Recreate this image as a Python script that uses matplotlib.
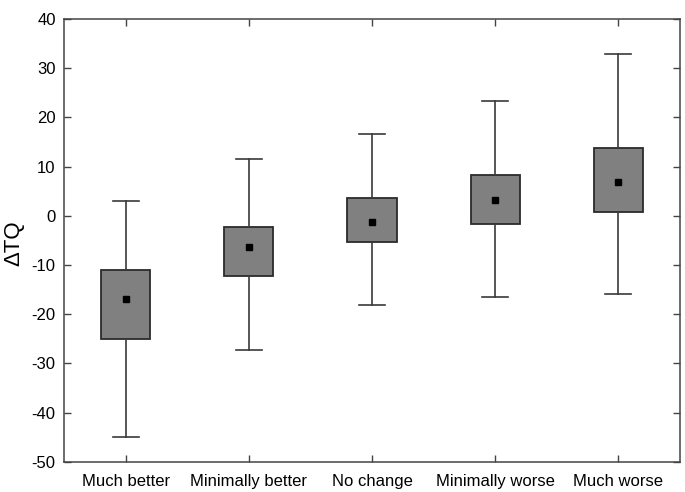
import matplotlib
matplotlib.use("Agg")
import matplotlib.pyplot as plt

categories = ["Much better", "Minimally better", "No change", "Minimally worse", "Much worse"]
whisker_low = [-45.0, -27.3, -18.2, -16.6, -16.0]
q1 = [-25.0, -12.3, -5.3, -1.6, 0.8]
means = [-17.0, -6.3, -1.3, 3.3, 6.9]
q3 = [-11.0, -2.3, 3.6, 8.2, 13.8]
whisker_high = [3.0, 11.5, 16.6, 23.3, 32.9]
yticks = [-50, -40, -30, -20, -10, 0, 10, 20, 30, 40]

plt.rcParams['font.family'] = ['Liberation Sans', 'DejaVu Sans']
plt.rcParams['axes.unicode_minus'] = False

fig = plt.figure(figsize=(6.85, 4.92), dpi=100)
ax = fig.add_axes([0.0934, 0.0616, 0.8993, 0.8998])

stats = []
for i, c in enumerate(categories):
    stats.append(dict(label=c, whislo=whisker_low[i], q1=q1[i], med=means[i],
                      q3=q3[i], whishi=whisker_high[i], mean=means[i], fliers=[]))

positions = list(range(1, len(categories) + 1))
ax.bxp(stats, positions=positions, widths=0.4, patch_artist=True, showmeans=True,
       showfliers=False,
       boxprops=dict(facecolor='#808080', edgecolor='#2b2b2b', linewidth=1.3),
       whiskerprops=dict(color='#3a3a3a', linewidth=1.2),
       capprops=dict(color='#3a3a3a', linewidth=1.2),
       medianprops=dict(linewidth=0, color='none'),
       meanprops=dict(marker='s', markerfacecolor='black', markeredgecolor='black',
                      markersize=5),
       capwidths=0.21)

ax.set_xlim(0.5, 5.5)
ax.set_ylim(-50, 40)
ax.set_yticks(yticks)
ax.set_xticks(positions)
ax.set_xticklabels(categories, fontsize=12)
ax.tick_params(axis='y', labelsize=12, pad=6)
ax.tick_params(axis='x', pad=9)
ax.tick_params(direction='in', top=True, right=True, length=5, color='#444444', width=1)
for s in ax.spines.values():
    s.set_color('#444444')
    s.set_linewidth(1.1)
ax.set_ylabel('ΔTQ', fontsize=16)
ax.yaxis.set_label_coords(-0.064, 0.494)

fig.savefig('out.png', dpi=100)
